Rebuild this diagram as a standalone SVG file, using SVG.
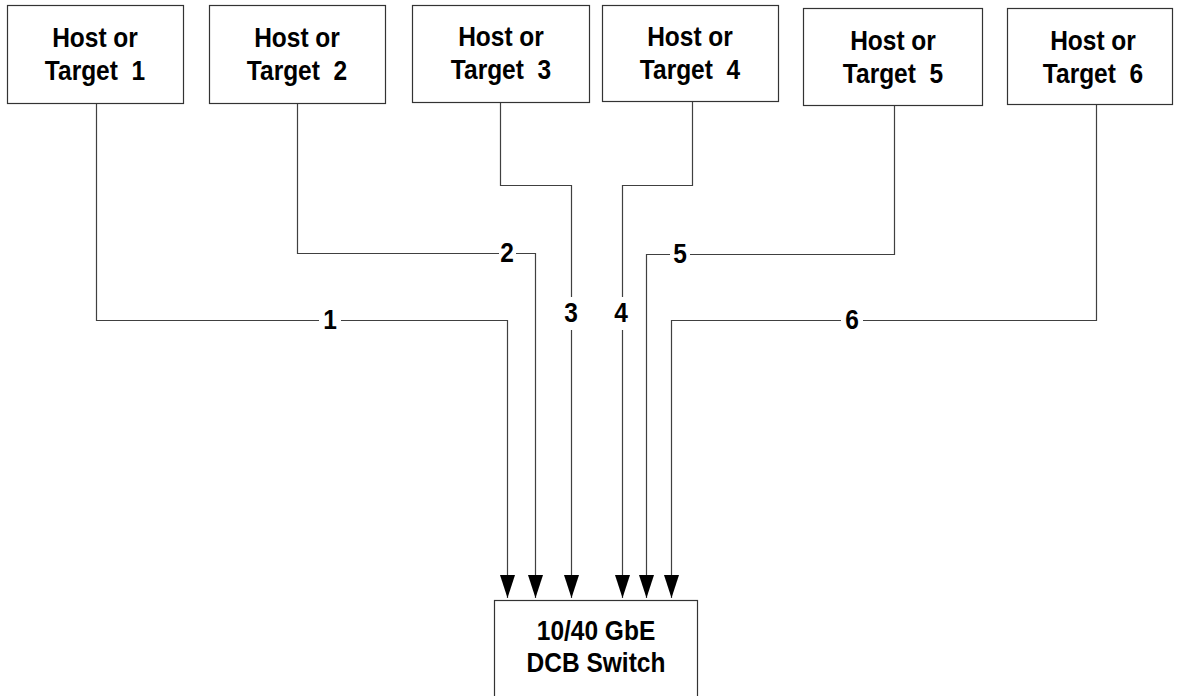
<svg xmlns="http://www.w3.org/2000/svg" width="1177" height="696" viewBox="0 0 1177 696">
<style>
.box{fill:#fff;stroke:#333;stroke-width:1.2}
.t{font-family:"Liberation Sans",Arial,sans-serif;font-weight:bold;font-size:24.5px;fill:#000;text-anchor:middle}
.c{fill:none;stroke:#404040;stroke-width:1.2}
.bg{fill:#fff}
</style>
<defs>
<marker id="ah" markerUnits="userSpaceOnUse" viewBox="0 0 23 15" markerWidth="23" markerHeight="15" refX="23" refY="7.5" orient="auto">
<path d="M0,0 L23,7.5 L0,15 z" fill="#000"/>
</marker>
</defs>
<g id="connectors">
<path class="c" d="M96.5,103 V320.5 H507.5 V598" marker-end="url(#ah)"/>
<path class="c" d="M297.5,103 V253.5 H535.5 V598" marker-end="url(#ah)"/>
<path class="c" d="M500.5,103 V185.5 H571.5 V598" marker-end="url(#ah)"/>
<path class="c" d="M692.5,101 V185.5 H622.5 V598" marker-end="url(#ah)"/>
<path class="c" d="M894.5,106 V254.5 H646.5 V598" marker-end="url(#ah)"/>
<path class="c" d="M1096.5,105 V320.5 H671.5 V598" marker-end="url(#ah)"/>
<rect class="bg" x="319" y="308" width="22" height="25"/>
<text class="t" transform="translate(330,329) scale(1,1.14)">1</text>
<rect class="bg" x="499" y="241" width="17" height="25"/>
<text class="t" transform="translate(507,262) scale(1,1.14)">2</text>
<rect class="bg" x="562" y="297" width="18" height="33"/>
<text class="t" transform="translate(571,322) scale(1,1.14)">3</text>
<rect class="bg" x="612" y="297" width="18" height="33"/>
<text class="t" transform="translate(621,322) scale(1,1.14)">4</text>
<rect class="bg" x="670" y="242" width="20" height="25"/>
<text class="t" transform="translate(680,263) scale(1,1.14)">5</text>
<rect class="bg" x="841" y="308" width="22" height="25"/>
<text class="t" transform="translate(852,329) scale(1,1.14)">6</text>
</g>
<g id="host1">
<rect class="box" x="7.5" y="5.5" width="176" height="98"/>
<text class="t" transform="translate(95,47) scale(1,1.14)">Host or</text>
<text class="t" transform="translate(95,80) scale(1,1.14)" xml:space="preserve">Target  1</text>
</g>
<g id="host2">
<rect class="box" x="209.5" y="5.5" width="176" height="98"/>
<text class="t" transform="translate(297,47) scale(1,1.14)">Host or</text>
<text class="t" transform="translate(297,80) scale(1,1.14)" xml:space="preserve">Target  2</text>
</g>
<g id="host3">
<rect class="box" x="412.5" y="5.5" width="177" height="97"/>
<text class="t" transform="translate(501,46) scale(1,1.14)">Host or</text>
<text class="t" transform="translate(501,79) scale(1,1.14)" xml:space="preserve">Target  3</text>
</g>
<g id="host4">
<rect class="box" x="602.5" y="5.5" width="176" height="96"/>
<text class="t" transform="translate(690,46) scale(1,1.14)">Host or</text>
<text class="t" transform="translate(690,79) scale(1,1.14)" xml:space="preserve">Target  4</text>
</g>
<g id="host5">
<rect class="box" x="803.5" y="8.5" width="179" height="97"/>
<text class="t" transform="translate(893,50) scale(1,1.14)">Host or</text>
<text class="t" transform="translate(893,83) scale(1,1.14)" xml:space="preserve">Target  5</text>
</g>
<g id="host6">
<rect class="box" x="1007.5" y="8.5" width="165" height="96"/>
<text class="t" transform="translate(1093,50) scale(1,1.14)">Host or</text>
<text class="t" transform="translate(1093,83) scale(1,1.14)" xml:space="preserve">Target  6</text>
</g>
<g id="switch">
<rect class="box" x="494.5" y="600.5" width="203" height="110"/>
<text class="t" transform="translate(596,640) scale(1,1.14)">10/40 GbE</text>
<text class="t" transform="translate(596,672) scale(1,1.14)">DCB Switch</text>
</g>
</svg>
